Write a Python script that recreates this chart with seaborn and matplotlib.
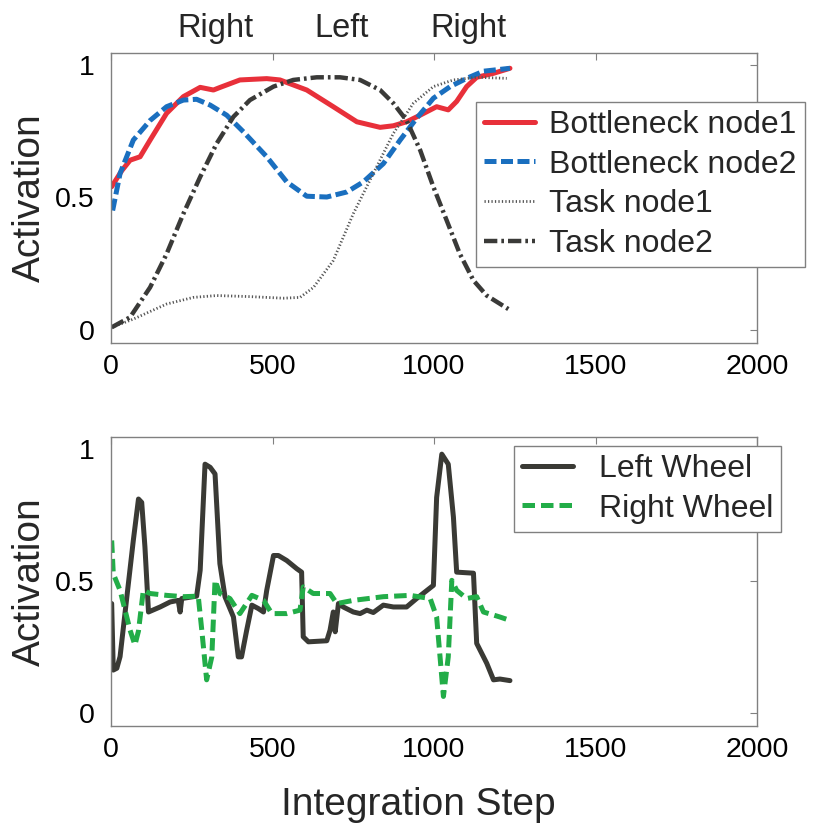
import numpy as np
import pandas as pd
import matplotlib
matplotlib.use("Agg")
import matplotlib.pyplot as plt
import seaborn as sns

# ------------------------------------------------------------
# data
# ------------------------------------------------------------
bn1_x = [2, 33, 59, 90, 121, 172, 224, 276, 317, 338, 399, 482, 523, 606, 688, 761,
         833, 874, 915, 957, 1008, 1044, 1070, 1101, 1132, 1184, 1235]
bn1_y = [0.54, 0.60, 0.64, 0.653, 0.716, 0.817, 0.88, 0.915, 0.905, 0.915, 0.943, 0.948,
         0.943, 0.905, 0.842, 0.785, 0.764, 0.77, 0.785, 0.81, 0.842, 0.83, 0.862, 0.918,
         0.953, 0.968, 0.987]

bn2_x = [5, 28, 69, 121, 172, 224, 265, 307, 358, 410, 482, 544, 606, 668, 730, 781,
         843, 895, 946, 998, 1050, 1101, 1153, 1235]
bn2_y = [0.45, 0.59, 0.716, 0.79, 0.842, 0.867, 0.87, 0.848, 0.81, 0.747, 0.653, 0.558,
         0.504, 0.501, 0.52, 0.558, 0.627, 0.716, 0.798, 0.874, 0.918, 0.949, 0.976, 0.987]

tn1_x = [2, 69, 172, 255, 327, 430, 533, 585, 627, 688, 750, 812, 874, 936, 998, 1060,
         1132, 1225]
tn1_y = [0.009, 0.04, 0.097, 0.122, 0.129, 0.125, 0.119, 0.122, 0.16, 0.261, 0.438, 0.59,
         0.741, 0.855, 0.918, 0.943, 0.953, 0.949]

tn2_x = [2, 59, 121, 172, 224, 276, 327, 379, 430, 503, 564, 637, 709, 771, 833, 874,
         915, 957, 998, 1039, 1080, 1122, 1163, 1230]
tn2_y = [0.009, 0.047, 0.16, 0.286, 0.438, 0.577, 0.703, 0.804, 0.867, 0.918, 0.943,
         0.953, 0.953, 0.943, 0.905, 0.855, 0.79, 0.678, 0.539, 0.413, 0.286, 0.186,
         0.129, 0.078]

lw_x = [2, 7, 18, 28, 49, 69, 85, 95, 105, 116, 152, 183, 208, 214, 219, 265, 276, 291,
        307, 322, 337, 353, 379, 394, 404, 420, 436, 456, 472, 482, 503, 518, 544, 575,
        590, 595, 611, 668, 678, 688, 694, 704, 719, 750, 771, 792, 812, 843, 874, 915,
        946, 998, 1008, 1024, 1044, 1060, 1070, 1122, 1132, 1163, 1184, 1204, 1235]
lw_y = [0.414, 0.162, 0.169, 0.213, 0.439, 0.653, 0.81, 0.797, 0.628, 0.382, 0.401,
        0.42, 0.426, 0.382, 0.433, 0.442, 0.54, 0.942, 0.93, 0.905, 0.565, 0.439, 0.363,
        0.212, 0.212, 0.313, 0.408, 0.395, 0.382, 0.464, 0.596, 0.596, 0.577, 0.546,
        0.533, 0.288, 0.269, 0.273, 0.313, 0.382, 0.307, 0.414, 0.401, 0.382, 0.376,
        0.389, 0.38, 0.408, 0.401, 0.401, 0.433, 0.483, 0.816, 0.98, 0.942, 0.741,
        0.533, 0.529, 0.263, 0.188, 0.125, 0.128, 0.122]

rw_x = [2, 7, 28, 59, 74, 85, 100, 121, 172, 224, 270, 281, 296, 312, 322, 337, 368,
        399, 436, 472, 498, 544, 585, 595, 626, 678, 699, 750, 843, 926, 988, 1008,
        1029, 1044, 1055, 1070, 1101, 1132, 1153, 1204, 1240]
rw_y = [0.653, 0.527, 0.464, 0.313, 0.257, 0.31, 0.464, 0.452, 0.445, 0.44, 0.442,
        0.313, 0.125, 0.212, 0.502, 0.452, 0.433, 0.376, 0.445, 0.426, 0.376, 0.376,
        0.389, 0.477, 0.452, 0.452, 0.414, 0.426, 0.44, 0.445, 0.433, 0.363, 0.062,
        0.212, 0.502, 0.464, 0.433, 0.44, 0.382, 0.363, 0.348]

top_labels = ["Right", "Left", "Right"]
top_label_x = [322, 715, 1105]

x_ticks = [0, 500, 1000, 1500, 2000]
y_ticks = [0, 0.5, 1]
y_ticklabels = ["0", "0.5", "1"]

# ------------------------------------------------------------
# style
# ------------------------------------------------------------
sns.set_theme(style="white")
plt.rcParams["font.family"] = ["Liberation Sans", "DejaVu Sans"]
plt.rcParams["axes.edgecolor"] = "#808080"
plt.rcParams["axes.linewidth"] = 1.0

fig = plt.figure(figsize=(8.23, 8.27), dpi=100)
ax1 = fig.add_axes([0.1349, 0.5853, 0.785, 0.3507])
ax2 = fig.add_axes([0.1349, 0.1221, 0.785, 0.3495])

# top panel
sns.lineplot(x=bn1_x, y=bn1_y, ax=ax1, color="#e8303a", lw=3.6, label="Bottleneck node1")
sns.lineplot(x=bn2_x, y=bn2_y, ax=ax1, color="#1a6fbf", lw=3.6,
             label="Bottleneck node2", linestyle=(0, (2.4, 0.9)))
sns.lineplot(x=tn1_x, y=tn1_y, ax=ax1, color="#555555", lw=2.0,
             label="Task node1", linestyle=(0, (0.45, 0.8)))
sns.lineplot(x=tn2_x, y=tn2_y, ax=ax1, color="#3a3a38", lw=3.2,
             label="Task node2", linestyle=(0, (3.0, 0.9, 0.6, 0.9)))

# bottom panel
sns.lineplot(x=lw_x, y=lw_y, ax=ax2, color="#3a3a35", lw=3.6, label="Left Wheel",
             sort=False)
sns.lineplot(x=rw_x, y=rw_y, ax=ax2, color="#22ad48", lw=3.6, label="Right Wheel",
             linestyle=(0, (2.5, 1.2)), sort=False)

for ax in (ax1, ax2):
    ax.set_xlim(0, 2000)
    ax.set_ylim(-0.05, 1.045)
    ax.set_xticks(x_ticks)
    ax.set_yticks(y_ticks)
    ax.set_yticklabels(y_ticklabels)
    ax.tick_params(direction="in", top=True, right=True, length=5, width=0.8,
                   color="#808080", labelsize=20.5, labelcolor="black", pad=8)
    ax.tick_params(axis="y", pad=12)
    for s in ax.spines.values():
        s.set_visible(True)
        s.set_color("#808080")
    ax.set_ylabel("Activation", fontsize=28)
    ax.yaxis.set_label_coords(-0.097, 0.5)
    ax.set_xlabel("")

for lx, lab in zip(top_label_x, top_labels):
    ax1.text(lx, 1.085, lab, transform=ax1.get_xaxis_transform(), ha="center",
             va="center", fontsize=23.5)

ax2.set_xlabel("Integration Step", fontsize=28)
ax2.xaxis.set_label_coords(0.476, -0.21)

leg1 = ax1.legend(loc="upper left", bbox_to_anchor=(476 / 823, 1 - 102 / 827),
                  bbox_transform=fig.transFigure, fontsize=23, frameon=True,
                  fancybox=False, edgecolor="#808080", framealpha=1,
                  handlelength=1.6, handletextpad=0.45, labelspacing=0.3,
                  borderpad=0.25, borderaxespad=0)
leg1.get_frame().set_linewidth(1.0)

leg2 = ax2.legend(loc="upper left", bbox_to_anchor=(514 / 823, 1 - 446 / 827),
                  bbox_transform=fig.transFigure, fontsize=23, frameon=True,
                  fancybox=False, edgecolor="#808080", framealpha=1,
                  handlelength=1.6, handletextpad=0.8, labelspacing=0.3,
                  borderpad=0.25, borderaxespad=0)
leg2.get_frame().set_linewidth(1.0)

fig.savefig("out.png", dpi=100)
